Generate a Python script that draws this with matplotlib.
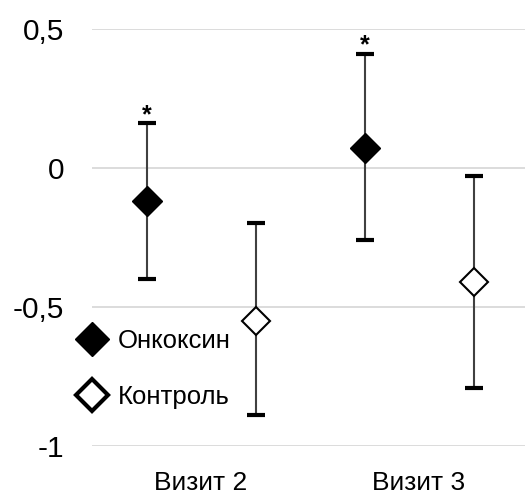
import numpy as np
import matplotlib.pyplot as plt
from matplotlib.lines import Line2D

plt.rcParams['font.family'] = ['Liberation Sans', 'DejaVu Sans']

# DATE
categorii = ['Визит 2', 'Визит 3']
onkoksin = [-0.12, 0.07]
onkoksin_sus = [0.16, 0.41]
onkoksin_jos = [-0.40, -0.26]
kontrol = [-0.55, -0.41]
kontrol_sus = [-0.20, -0.03]
kontrol_jos = [-0.89, -0.79]
serii = ['Онкоксин', 'Контроль']

fig = plt.figure(figsize=(5.25, 4.95), dpi=100)
ax = fig.add_axes([92 / 525, 49 / 495, 436 / 525, 417.5 / 495])

x = np.arange(1, len(categorii) + 1)
off = 0.25

def desen(xs, y, sus, jos, fc, ms, mew):
    y = np.array(y)
    err = [y - np.array(jos), np.array(sus) - y]
    # linia erorii
    ax.errorbar(xs, y, yerr=err, fmt='none', ecolor='#404040', elinewidth=1.5,
                capsize=0, zorder=2)
    # capetele negre groase
    ax.errorbar(xs, y, yerr=err, fmt='none', ecolor='black', elinewidth=0,
                capsize=6.8, capthick=3, zorder=3)
    ax.plot(xs, y, 'D', ms=ms, mfc=fc, mec='black', mew=mew, zorder=4)

desen(x - off, onkoksin, onkoksin_sus, onkoksin_jos, 'black', 15, 1)
desen(x + off, kontrol, kontrol_sus, kontrol_jos, 'white', 14.5, 1.5)

# asteriscuri
for xi, top in zip(x - off, onkoksin_sus):
    ax.annotate('*', (xi, top), xytext=(0, -3), textcoords='offset points',
                ha='center', va='bottom', fontsize=18, fontweight='bold')

ax.set_xlim(0.5, 2.5)
ax.set_ylim(-1, 0.5)
ax.set_yticks([-1, -0.5, 0, 0.5])
ax.set_yticklabels(['-1', '-0,5', '0', '0,5'])
ax.set_xticks(x)
ax.set_xticklabels(categorii)
ax.tick_params(axis='y', length=0, pad=20, labelsize=21.5)
ax.tick_params(axis='x', length=0, pad=18, labelsize=19)
ax.grid(axis='y', color='#d9d9d9', lw=1.3, zorder=0)
ax.set_axisbelow(True)
for s in ax.spines.values():
    s.set_visible(False)

handles = [Line2D([], [], ls='none', marker='D', ms=17, mfc='black', mec='black', mew=1),
           Line2D([], [], ls='none', marker='D', ms=16, mfc='white', mec='black', mew=3)]
ax.legend(handles, serii, loc='upper left', bbox_to_anchor=(79.5 / 525, 1 - 329 / 495),
          bbox_transform=fig.transFigure, frameon=False, fontsize=18.5, borderpad=0,
          borderaxespad=0, handlelength=1.0, handletextpad=0.5, labelspacing=1.25)

fig.savefig('out.png', dpi=100)
